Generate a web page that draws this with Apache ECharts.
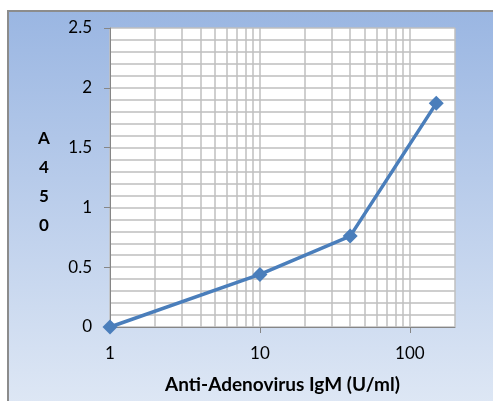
<!DOCTYPE html>
<html>
<head>
<meta charset="utf-8">
<script src="https://cdn.jsdelivr.net/npm/echarts@6/dist/echarts.min.js"></script>
<style>
  html, body { margin: 0; padding: 0; background: #fff; }
  #chart { width: 493px; height: 401px; }
</style>
</head>
<body>
<div id="chart"></div>
<script>
// concentration (U/ml) vs absorbance
var conc = [1, 10, 40, 150];
var a450 = [0, 0.44, 0.76, 1.87];
// log axis minor grid positions
var xMinorGrid = [2, 3, 4, 5, 6, 7, 8, 9, 20, 30, 40, 50, 60, 70, 80, 90];

var gridColor = '#bfbfbf';
var font = 'Lato, "Open Sans", sans-serif';

var chart = echarts.init(document.getElementById('chart'));

var pts = [];
for (var i = 0; i < conc.length; i++) {
    pts.push([conc[i], a450[i]]);
}

var option = {
    animation: false,
    graphic: {
        elements: [{
            type: 'rect',
            z: -10,
            shape: { x: 8, y: 11, width: 500, height: 400 },
            style: {
                fill: new echarts.graphic.LinearGradient(0, 0, 0, 1, [
                    { offset: 0, color: '#9ab6e2' },
                    { offset: 1, color: '#dfe8f5' }
                ]),
                stroke: '#8c8c8c',
                lineWidth: 2
            }
        }, {
            // stacked y title
            type: 'text',
            x: 44,
            y: 182,
            style: {
                text: 'A\n4\n5\n0',
                font: 'bold 17px ' + font,
                fill: '#000',
                align: 'center',
                verticalAlign: 'middle',
                lineHeight: 29
            }
        }]
    },
    grid: {
        left: 110, top: 28, right: 38, bottom: 74,
        show: true, backgroundColor: '#fff', borderWidth: 0
    },
    xAxis: {
        type: 'log',
        logBase: 10,
        min: 1,
        max: 200,
        name: 'Anti-Adenovirus IgM (U/ml)',
        nameLocation: 'middle',
        nameGap: 48,
        nameTextStyle: { fontFamily: font, fontWeight: 'bold', fontSize: 19, color: '#000' },
        axisLine: { lineStyle: { color: '#868686', width: 1 } },
        axisTick: { show: true, length: 6, lineStyle: { color: '#868686' } },
        axisLabel: { fontFamily: font, fontSize: 17, color: '#000', margin: 18, showMaxLabel: false },
        splitLine: { show: true, lineStyle: { color: gridColor, width: 1.5 } }
    },
    yAxis: {
        type: 'value',
        min: 0,
        max: 2.5,
        interval: 0.5,
        axisLine: { show: true, lineStyle: { color: '#868686', width: 1 } },
        axisTick: { show: true, length: 6, lineStyle: { color: '#868686' } },
        minorTick: { show: true, splitNumber: 5, length: 0 },
        minorSplitLine: { show: true, lineStyle: { color: gridColor, width: 1.5 } },
        axisLabel: { fontFamily: font, fontSize: 17, color: '#000', margin: 18 },
        splitLine: { show: true, lineStyle: { color: gridColor, width: 1.5 } }
    },
    series: [{
        type: 'line',
        z: 1,
        data: [],
        markLine: {
            z: 1,
            silent: true,
            symbol: 'none',
            label: { show: false },
            lineStyle: { color: gridColor, width: 1.5, type: 'solid' },
            data: xMinorGrid.map(function(v) { return { xAxis: v }; })
        }
    }, {
        type: 'line',
        z: 3,
        data: pts,
        symbol: 'diamond',
        symbolSize: 15,
        lineStyle: { color: '#4a7ebb', width: 3.5 },
        itemStyle: { color: '#4a7ebb' }
    }]
};

chart.setOption(option);
</script>
</body>
</html>
